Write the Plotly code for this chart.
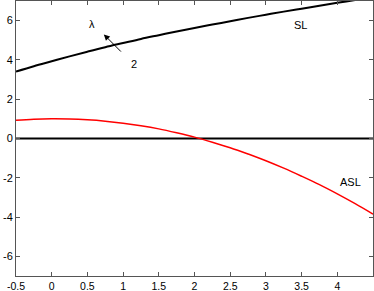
import plotly.graph_objects as go

x_vals = [-0.5, -0.25, 0, 0.25, 0.5, 0.75, 1, 1.25, 1.5, 1.75, 2, 2.25, 2.5, 2.75, 3, 3.25, 3.5, 3.75, 4, 4.25, 4.5]
sl_vals = [3.41, 3.68, 3.93, 4.18, 4.42, 4.65, 4.86, 5.07, 5.26, 5.45, 5.63, 5.80, 5.97, 6.14, 6.30, 6.46, 6.61, 6.76, 6.91, 7.05, 7.2]
asl_vals = [0.93, 0.98, 1.0, 0.99, 0.95, 0.88, 0.78, 0.65, 0.49, 0.29, 0.07, -0.19, -0.47, -0.79, -1.13, -1.51, -1.92, -2.35, -2.82, -3.32, -3.85]
zero_vals = [0.0] * len(x_vals)

x_ticks = [-0.5, 0, 0.5, 1, 1.5, 2, 2.5, 3, 3.5, 4]
x_tick_labels = ["-0.5", "0", "0.5", "1", "1.5", "2", "2.5", "3", "3.5", "4"]
y_ticks = [-6, -4, -2, 0, 2, 4, 6]
y_tick_labels = ["-6", "-4", "-2", "0", "2", "4", "6"]

fig = go.Figure()
fig.add_trace(go.Scatter(x=x_vals, y=zero_vals, mode="lines",
                         line=dict(color="black", width=2), showlegend=False))
fig.add_trace(go.Scatter(x=x_vals, y=asl_vals, mode="lines", line_shape="spline",
                         line=dict(color="#ff0000", width=1.5), showlegend=False))
fig.add_trace(go.Scatter(x=x_vals, y=sl_vals, mode="lines", line_shape="spline",
                         line=dict(color="black", width=2), showlegend=False))

font = dict(family="Liberation Sans, Arial, sans-serif", size=11, color="black")
xfont = dict(family="Liberation Sans, Arial, sans-serif", size=10.5, color="black")
yfont = dict(family="Liberation Sans, Arial, sans-serif", size=11, color="black")

fig.add_annotation(x=0.73, y=5.30, ax=0.99, ay=4.35, xref="x", yref="y", axref="x", ayref="y",
                   text="", showarrow=True, arrowhead=2, arrowsize=1.2, arrowwidth=1, arrowcolor="black")
fig.add_annotation(x=0.56, y=5.85, text="λ", showarrow=False, font=font)
fig.add_annotation(x=1.15, y=3.80, text="2", showarrow=False, font=font)
fig.add_annotation(x=3.49, y=5.8, text="SL", showarrow=False, font=font)
fig.add_annotation(x=4.19, y=-2.19, text="ASL", showarrow=False, font=font)

axis_common = dict(showline=True, linecolor="#555", linewidth=1, mirror="ticks",
                   ticks="inside", ticklen=4, tickcolor="#555", showgrid=False,
                   zeroline=False, automargin=False)
fig.update_xaxes(range=[-0.5, 4.5], tickvals=x_ticks, ticktext=x_tick_labels, tickfont=xfont, **axis_common)
fig.update_yaxes(range=[-7, 7], tickvals=y_ticks, ticktext=y_tick_labels, tickfont=yfont, **axis_common)

fig.update_layout(width=374, height=291, margin=dict(l=16, r=1, t=1, b=15, pad=0),
                  plot_bgcolor="white", paper_bgcolor="white", font=font)

fig.write_html("out.html", config={"displayModeBar": False},
               post_script="document.body.style.margin='0';document.body.style.overflow='hidden';")
